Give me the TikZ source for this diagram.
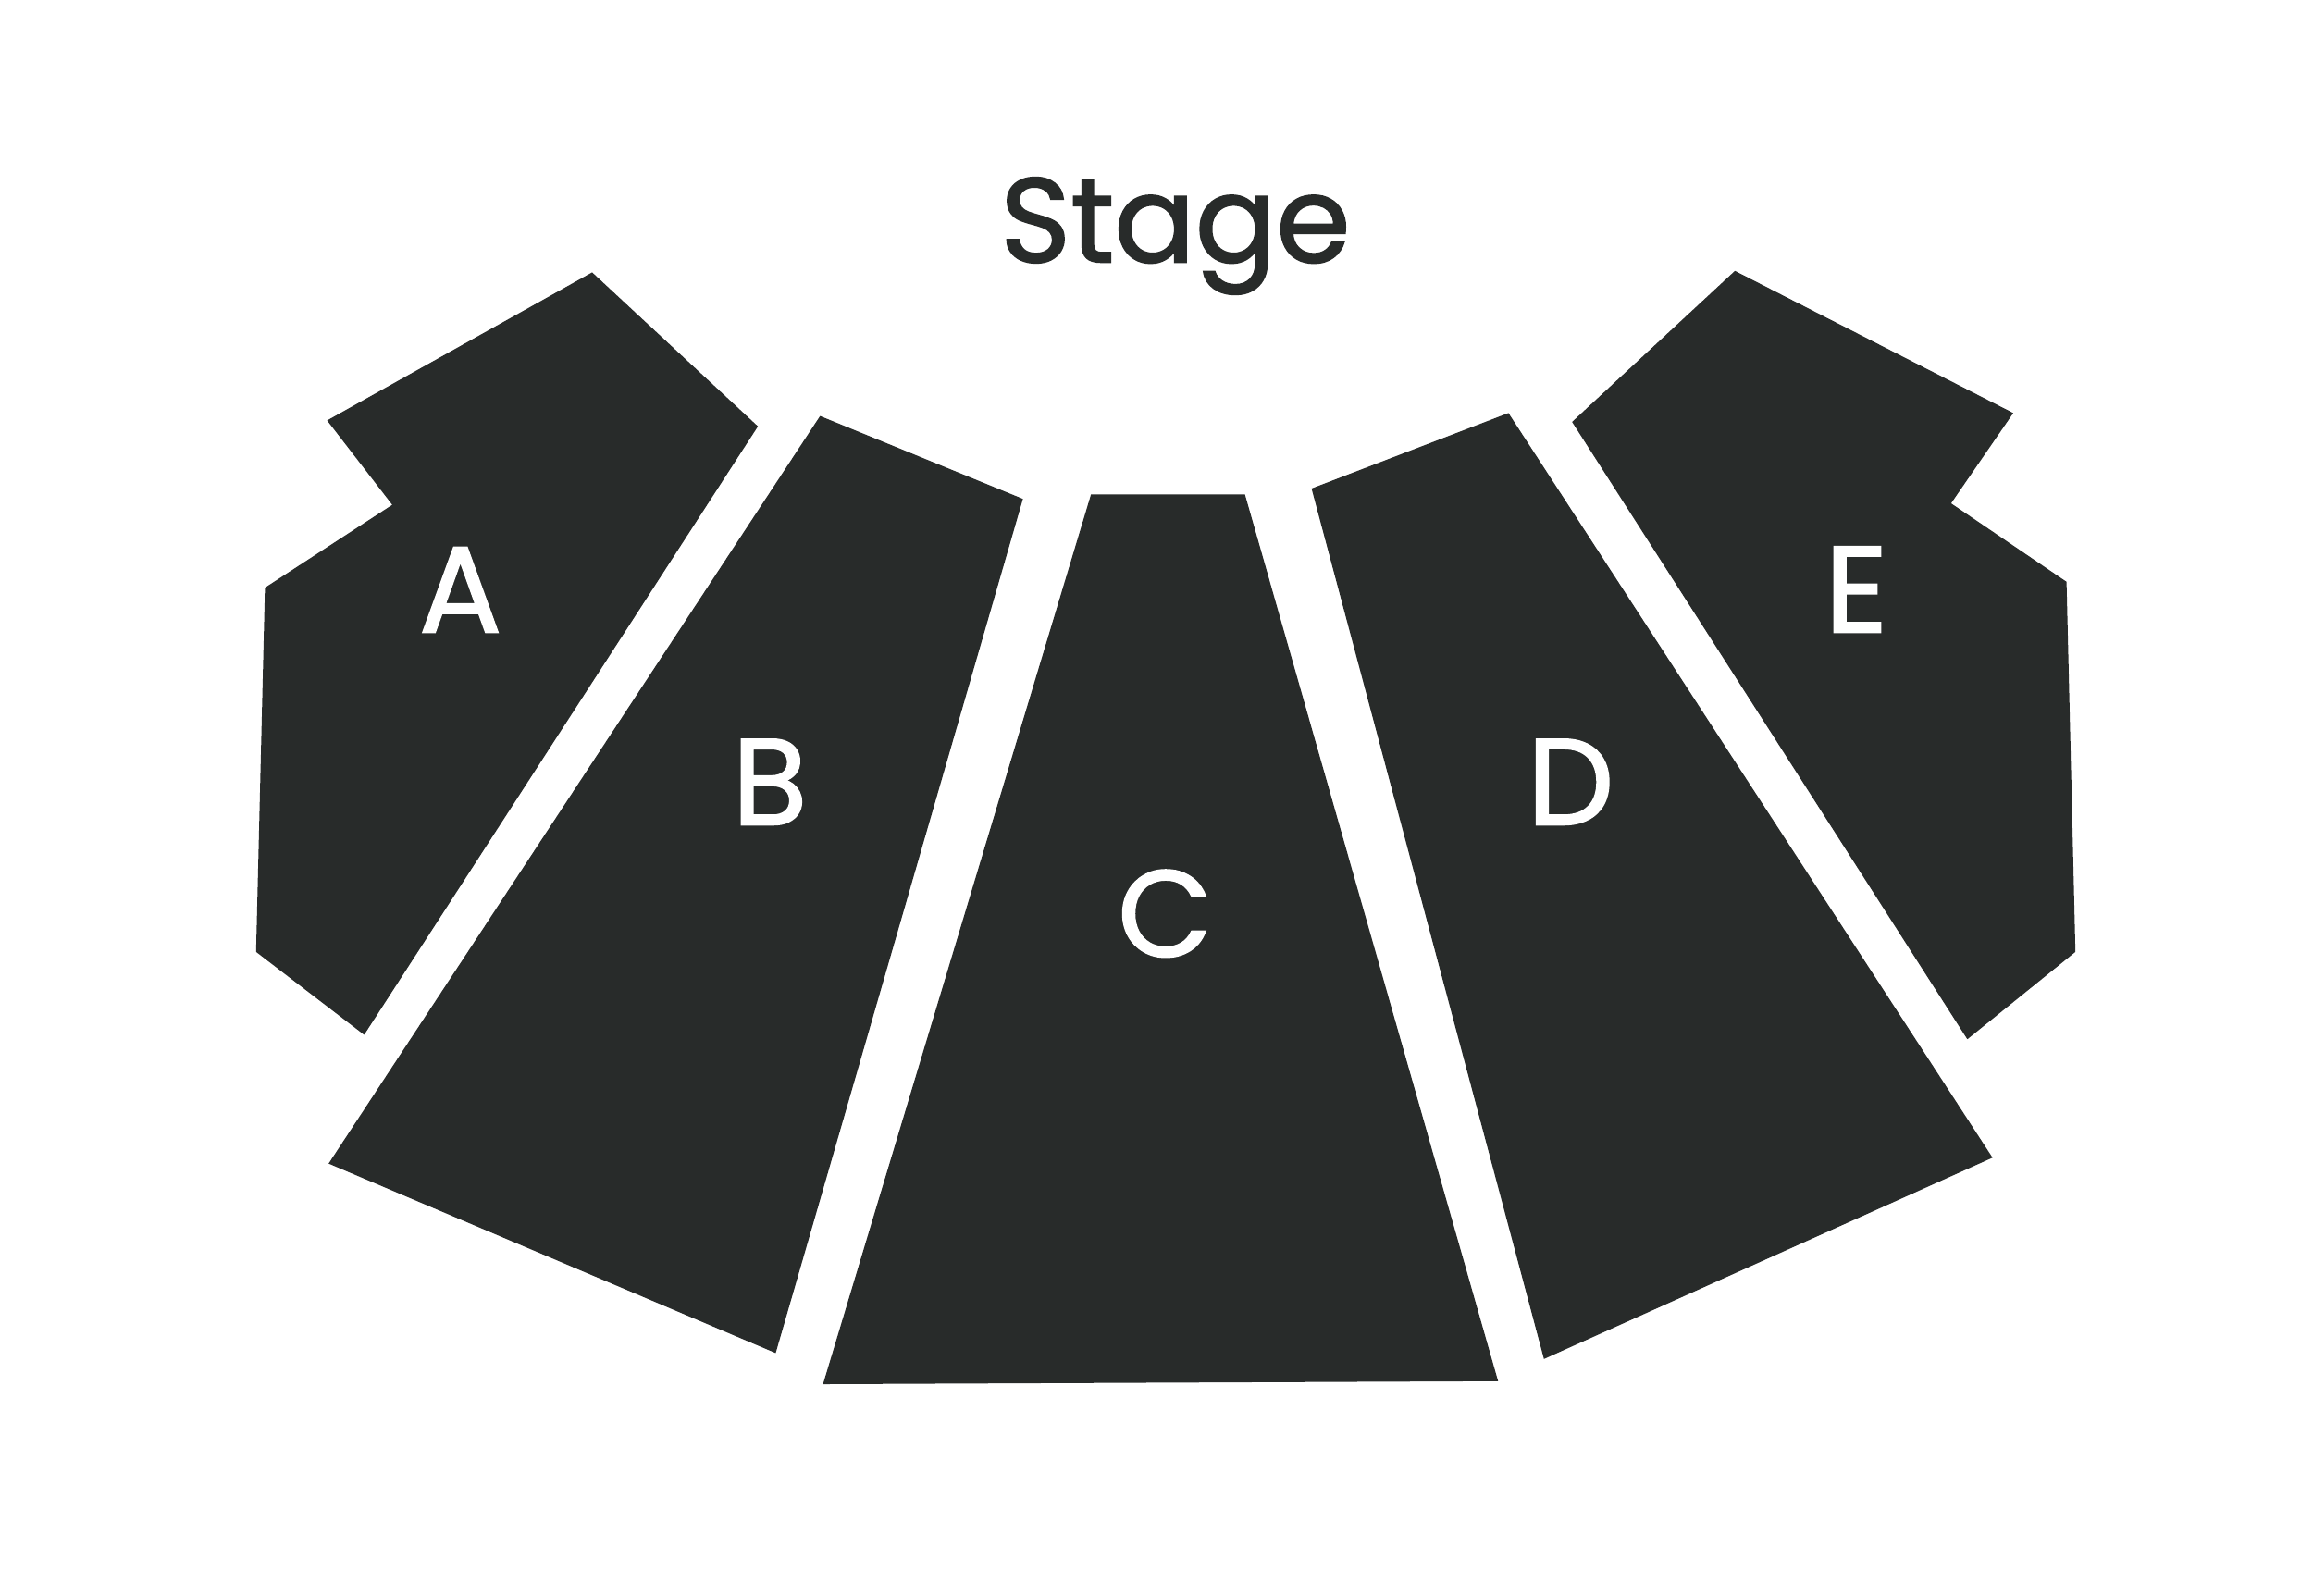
\documentclass[tikz,border=0pt]{standalone}
\usepackage{fontspec}
\setmainfont{Poppins}[FakeBold=1.6]
\definecolor{block}{HTML}{282B2A}
\tikzset{
	bereich/.style={fill=block, draw=none},
	buchstabe/.style={text=white, font=\fontsize{23.5}{23.5}\selectfont, inner sep=0pt, anchor=base},
}
\begin{document}
\begin{tikzpicture}[x=0.01cm, y=-0.01cm]
		% Rahmen wie im Original
		\useasboundingbox (0,0) rectangle (1562.5,1077.5);
		
		% Bühne
		\node[text=block, font=\fontsize{23}{23}\selectfont, inner sep=0pt, anchor=base] (buehne) at (794,177) {Stage};
		
		% Block A (links oben, mit Knick)
		\fill[bereich] (221,284) -- (400,184) -- (512,288) -- (246,699) -- (173,643) -- (179,397) -- (265,341) -- cycle;
		% Block B
		\fill[bereich] (554,281) -- (691,337) -- (524,914) -- (222,786) -- cycle;
		% Block C (Mitte)
		\fill[bereich] (737,334) -- (841,334) -- (1012,933) -- (556,935) -- cycle;
		% Block D
		\fill[bereich] (886,330) -- (1019,279) -- (1346,782) -- (1043,918) -- cycle;
		% Block E (rechts oben, mit Knick)
		\fill[bereich] (1062,285) -- (1172,183) -- (1360,279) -- (1318,340) -- (1396,393) -- (1402,643) -- (1329,702) -- cycle;
		
		% Beschriftung der Blöcke
		\foreach \name/\x/\y in {A/311/427, B/520/557, C/787/646, D/1061/557, E/1254/427} {
			\node[buchstabe] (block\name) at (\x,\y) {\name};
		}
	\end{tikzpicture}
\end{document}
